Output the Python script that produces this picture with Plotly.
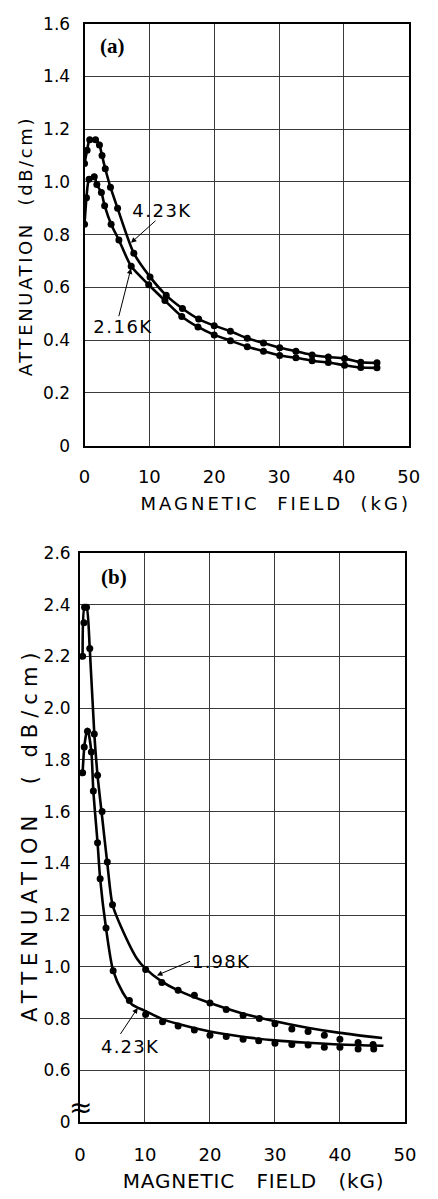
import plotly.graph_objects as go

# ---------------- panel (a) ----------------
a_field_423 = [0.0, 0.4, 0.8, 1.7, 2.3, 2.7, 3.2, 4.0, 5.1, 7.6, 10.1, 12.6, 15.1, 17.6,
               20.0, 22.5, 25.1, 27.6, 30.1, 32.6, 35.1, 37.6, 40.1, 42.6, 45.1]
a_atten_423 = [1.07, 1.12, 1.16, 1.16, 1.14, 1.10, 1.05, 0.98, 0.90, 0.73, 0.64, 0.57, 0.52, 0.48,
               0.455, 0.434, 0.407, 0.389, 0.371, 0.358, 0.344, 0.336, 0.330, 0.316, 0.314]
a_field_216 = [0.0, 0.3, 0.7, 1.5, 1.9, 2.6, 3.1, 4.1, 5.3, 7.2, 9.9, 12.4, 15.0, 17.5,
               20.0, 22.5, 25.1, 27.6, 30.1, 32.6, 35.1, 37.6, 40.1, 42.6, 45.1]
a_atten_216 = [0.84, 0.94, 1.01, 1.02, 0.99, 0.96, 0.91, 0.84, 0.78, 0.68, 0.61, 0.55, 0.49, 0.45,
               0.42, 0.398, 0.375, 0.358, 0.342, 0.333, 0.322, 0.315, 0.305, 0.296, 0.295]

# ---------------- panel (b) ----------------
b_field_198 = [0.4, 0.6, 0.7, 1.0, 1.5, 2.2, 2.7, 3.4, 4.2, 5.0, 10.1, 12.6, 15.1, 17.6, 20.0,
               22.5, 25.1, 27.6, 30.0, 32.6, 35.1, 37.6, 40.0, 42.8, 45.1]
b_atten_198 = [2.20, 2.33, 2.39, 2.39, 2.23, 1.90, 1.74, 1.60, 1.405, 1.24, 0.99, 0.94, 0.91, 0.89,
               0.86, 0.835, 0.812, 0.80, 0.78, 0.76, 0.75, 0.736, 0.72, 0.708, 0.70]
b_field_423 = [0.4, 0.65, 1.15, 1.75, 2.05, 2.7, 3.1, 4.0, 5.1, 7.6, 10.1, 12.7, 15.1, 17.6, 20.0,
               22.5, 25.1, 27.5, 30.0, 32.6, 35.1, 37.6, 40.0, 42.8, 45.2]
b_atten_423 = [1.75, 1.85, 1.91, 1.83, 1.68, 1.48, 1.34, 1.15, 0.985, 0.87, 0.816, 0.788, 0.771,
               0.756, 0.736, 0.731, 0.72, 0.714, 0.705, 0.70, 0.698, 0.689, 0.689, 0.683, 0.683]

# smooth fitted curves of panel (b)
fit_field_198 = [0.4, 0.7, 1.0, 1.5, 2.2, 2.7, 3.4, 4.2, 5.0, 6.4, 8.8, 10.0, 12.5, 15.0, 20.0,
                 25.0, 30.0, 35.0, 40.0, 46.5]
fit_atten_198 = [2.20, 2.39, 2.39, 2.23, 1.90, 1.74, 1.58, 1.40, 1.24, 1.15, 1.03, 0.995, 0.945,
                 0.91, 0.86, 0.82, 0.79, 0.765, 0.745, 0.725]
fit_field_423 = [0.4, 0.7, 1.15, 1.75, 2.05, 2.7, 3.1, 4.0, 5.1, 6.6, 8.0, 10.0, 12.5, 15.0, 20.0,
                 25.0, 30.0, 35.0, 40.0, 46.7]
fit_atten_423 = [1.75, 1.86, 1.92, 1.83, 1.68, 1.48, 1.34, 1.15, 0.985, 0.90, 0.855, 0.83, 0.80,
                 0.78, 0.75, 0.73, 0.716, 0.707, 0.70, 0.695]

x_ticks = [0, 10, 20, 30, 40, 50]
a_y_ticks = [0, 0.2, 0.4, 0.6, 0.8, 1.0, 1.2, 1.4, 1.6]
a_y_text = ["0", "0.2", "0.4", "0.6", "0.8", "1.0", "1.2", "1.4", "1.6"]
# broken axis in (b): the lowest tick stands for zero
b_y_ticks = [0.4, 0.6, 0.8, 1.0, 1.2, 1.4, 1.6, 1.8, 2.0, 2.2, 2.4, 2.6]
b_y_text = ["0", "0.6", "0.8", "1.0", "1.2", "1.4", "1.6", "1.8", "2.0", "2.2", "2.4", "2.6"]

W, H = 438, 1199
FONT = "DejaVu Sans"
INK = "black"

fig = go.Figure()

def curve(x, y, xa, ya, markers=True):
    fig.add_trace(go.Scatter(
        x=x, y=y, xaxis=xa, yaxis=ya,
        mode="lines+markers" if markers else "lines",
        line=dict(color=INK, width=2.6, shape="spline", smoothing=0.7),
        marker=dict(color=INK, size=7),
        showlegend=False, hoverinfo="skip"))

def dots(x, y, xa, ya):
    fig.add_trace(go.Scatter(
        x=x, y=y, xaxis=xa, yaxis=ya, mode="markers",
        marker=dict(color=INK, size=7),
        showlegend=False, hoverinfo="skip"))

curve(a_field_423, a_atten_423, "x", "y")
curve(a_field_216, a_atten_216, "x", "y")
curve(fit_field_198, fit_atten_198, "x2", "y2", markers=False)
curve(fit_field_423, fit_atten_423, "x2", "y2", markers=False)
dots(b_field_198, b_atten_198, "x2", "y2")
dots(b_field_423, b_atten_423, "x2", "y2")

def px(v):
    return v / W

def py(v):
    return 1 - v / H

axis_common = dict(
    showgrid=True, gridcolor="#3a3a3a", gridwidth=1,
    showline=True, linecolor=INK, linewidth=2, mirror=True,
    ticks="", zeroline=False, fixedrange=True,
    tickfont=dict(family=FONT, size=18, color=INK),
)

fig.update_layout(
    width=W, height=H,
    margin=dict(l=0, r=0, t=0, b=0),
    paper_bgcolor="white", plot_bgcolor="white",
    xaxis=dict(axis_common, domain=[px(81.7), px(419)], range=[0, 50],
               tickvals=x_ticks, anchor="y", ticklabelstandoff=14),
    yaxis=dict(axis_common, domain=[py(443), py(14)], range=[0, 1.6],
               tickvals=a_y_ticks, ticktext=a_y_text, anchor="x",
               ticklabelstandoff=9, tickfont=dict(family=FONT, size=17, color=INK)),
    xaxis2=dict(axis_common, domain=[px(77), px(415)], range=[0, 50],
                tickvals=x_ticks, anchor="y2", ticklabelstandoff=15),
    yaxis2=dict(axis_common, domain=[py(1131), py(552)], range=[0.4, 2.6],
                tickvals=b_y_ticks, ticktext=b_y_text, anchor="x2",
                ticklabelstandoff=4, tickfont=dict(family=FONT, size=17, color=INK)),
)

NB = "\u00a0"
annotations = []
spacing = []

def label(text, x, y, size, ls, xref="paper", yref="paper", angle=0, family=FONT, weight="normal"):
    annotations.append(dict(text=text, x=x, y=y, xref=xref, yref=yref, showarrow=False,
                            textangle=angle, xanchor="center", yanchor="middle",
                            font=dict(family=family, size=size, color=INK, weight=weight)))
    spacing.append(ls)

def arrow(xt, yt, xh, yh, xref, yref):
    annotations.append(dict(text="", x=xh, y=yh, ax=xt, ay=yt, xref=xref, yref=yref,
                            axref=xref, ayref=yref, showarrow=True, arrowhead=2,
                            arrowsize=1.1, arrowwidth=1, arrowcolor=INK))
    spacing.append(0)

# panel tags
label("(a)", px(111), py(37), 21, 0, family="Liberation Serif", weight="bold")
label("(b)", px(112), py(577), 21, 0, family="Liberation Serif", weight="bold")

# axis titles
label("MAGNETIC" + NB * 2 + "FIELD" + NB * 2 + "(kG)", px(280), py(502), 18, 3)
label("MAGNETIC" + NB * 3 + "FIELD" + NB * 3 + "(kG)", px(257), py(1191), 20, 0.8)
label("ATTENUATION" + NB * 2 + "(dB/cm)", px(21), py(240), 18, 2.6, angle=-90)
label("ATTENUATION" + NB * 2 + "(" + NB + "dB/cm)", px(25), py(838), 21, 6, angle=-90)

# curve labels with pointers
label("4.23K", 12.06, 0.892, 18, 1.5, xref="x", yref="y")
arrow(11.18, 0.858, 7.16, 0.769, "x", "y")
label("2.16K", 5.97, 0.451, 18, 1.5, xref="x", yref="y")
arrow(5.23, 0.485, 7.16, 0.672, "x", "y")
label("1.98K", 21.75, 1.02, 18, 1.2, xref="x2", yref="y2")
arrow(17.16, 1.024, 11.83, 0.967, "x2", "y2")
label("4.23K", 7.84, 0.693, 18, 1.2, xref="x2", yref="y2")
arrow(6.07, 0.735, 8.88, 0.841, "x2", "y2")

# axis break mark on the (b) ordinate
label("≈", px(77), py(1116), 28, 0)

fig.update_layout(annotations=annotations)

post = """
(function(){
  var ls = %s;
  function apply(){
    ls.forEach(function(v, i){
      if(!v) return;
      var t = document.querySelector('g.annotation[data-index="' + i + '"] text.annotation-text');
      if(t){ t.style.letterSpacing = v + 'px'; }
    });
  }
  apply();
  setTimeout(apply, 50);
  setTimeout(apply, 400);
  var gd = document.getElementById('{plot_id}');
  if(gd && gd.on){ gd.on('plotly_afterplot', apply); }
})();
""" % str(spacing)

fig.write_html("out.html", post_script=post, config={"staticPlot": True})
